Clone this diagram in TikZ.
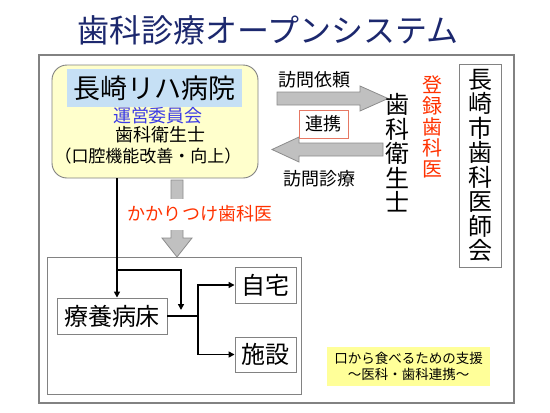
\documentclass[tikz,border=0pt]{standalone}
\usepackage{fontspec}
\setmainfont{Noto Sans CJK JP}
\usetikzlibrary{arrows.meta}
\definecolor{titleblue}{RGB}{28,40,110}
\definecolor{boxedge}{RGB}{130,130,130}
\definecolor{hospfill}{RGB}{255,255,204}
\definecolor{namefill}{RGB}{198,224,245}
\definecolor{commblue}{RGB}{60,60,230}
\definecolor{redtext}{RGB}{255,50,0}
\definecolor{arrowgray}{RGB}{192,192,192}
\definecolor{arrowedge}{RGB}{140,140,140}
\definecolor{notefill}{RGB}{255,255,153}
\definecolor{coopedge}{RGB}{230,120,100}
\tikzset{
  fs/.style={font=\fontsize{#1}{#1}\selectfont},
  plainbox/.style={draw=boxedge, line width=0.9pt, fill=white, inner sep=0pt},
  blockarrow/.style={fill=arrowgray, draw=arrowedge, line width=0.8pt},
  conn/.style={line width=1.6pt, -{Triangle[length=6pt,width=6pt]}},
  connplain/.style={line width=1.6pt},
  vtext/.style={align=center, inner sep=0pt}
}
\begin{document}
\begin{tikzpicture}[x=1pt,y=-1pt]
\useasboundingbox (0,0) rectangle (550,413);
\fill[white] (0,0) rectangle (550,413);

% title
\node[fs=32, text=titleblue, inner sep=0pt] (title) at (268,30) {歯科診療オープンシステム};

% outer frame
\draw[boxedge, line width=1.4pt] (39,55) rectangle (514,403);
\node[inner sep=0pt] (frame) at (276.5,229) {};

% hospital box
\node[draw=boxedge, line width=0.9pt, fill=hospfill, rounded corners=15pt,
      minimum width=206pt, minimum height=113pt, inner sep=0pt] (hosp) at (155,121.5) {};
\node[fill=namefill, minimum width=175pt, minimum height=38pt, inner sep=0pt, fs=27] (hospname) at (154.5,88) {長崎リハ病院};
\node[fs=18, text=commblue, inner sep=0pt] (committee) at (158,116) {運営委員会};
\node[fs=18, inner sep=0pt] (hyg) at (160,135) {歯科衛生士};
\node[fs=17, inner sep=0pt] (oral) at (148,156) {（口腔機能改善・向上）};

% block arrows between hospital and hygienist
\draw[blockarrow] (277,92) -- (360,92) -- (360,86) -- (388,98.5) -- (360,111) -- (360,105) -- (277,105) -- cycle;
\draw[blockarrow] (383,143) -- (299,143) -- (299,137) -- (272,149.5) -- (299,162) -- (299,156) -- (383,156) -- cycle;
\node[fs=18, inner sep=0pt] (req) at (314,80) {訪問依頼};
\node[draw=coopedge, line width=0.9pt, fill=white, fs=18, minimum width=49pt, minimum height=28pt, inner sep=0pt] (coop) at (323.5,124) {連携};
\node[fs=18, inner sep=0pt] (visit) at (319,179) {訪問診療};

% vertical texts
\node[vtext, fs=24, font=\fontsize{24}{24.5}\selectfont] (hygv) at (397,153) {歯\\科\\衛\\生\\士};
\node[vtext, text=redtext, font=\fontsize{20}{21}\selectfont] (regdent) at (432,127) {登\\録\\歯\\科\\医};
\node[draw=boxedge, line width=0.9pt, minimum width=42pt, minimum height=203pt, align=center, inner sep=0pt,
      font=\fontsize{24}{24.5}\selectfont] (assoc) at (480,165.5) {長\\崎\\市\\歯\\科\\医\\師\\会};

% lower box
\node[plainbox, minimum width=254pt, minimum height=137pt] (lower) at (174,325.5) {};

% down arrow from hospital to lower box
\draw[blockarrow] (171,180) -- (183,180) -- (183,238) -- (192,238) -- (177,257) -- (162,238) -- (171,238) -- cycle;
\node[fs=18, text=redtext, fill=white, inner xsep=1pt, minimum height=31pt] (kakari) at (200,214) {かかりつけ歯科医};

% ward and destinations
\node[plainbox, fs=24, minimum width=110pt, minimum height=36pt] (ryoyo) at (112,316) {療養病床};
\node[plainbox, fs=24, minimum width=61pt, minimum height=36pt] (home) at (265.5,285) {自宅};
\node[plainbox, fs=24, minimum width=61pt, minimum height=35pt] (facility) at (265.5,354.5) {施設};

% connectors
\coordinate (v) at (117,0);
\coordinate (br) at (117,270);
\coordinate (e2) at (181,310);
\coordinate (j) at (198,316);
\draw[conn] (hosp.south -| v) -- (ryoyo.north -| v);
\draw[conn] (br) -| (e2);
\draw[connplain] (ryoyo.east) -- (j);
\draw[conn] (j) |- (home.west);
\draw[conn] (j) |- (facility.west);

% note
\node[fill=notefill, minimum width=163pt, minimum height=39pt, align=center, inner sep=0pt,
      font=\fontsize{13.5}{16}\selectfont] (note) at (408.5,366.5) {口から食べるための支援\\～医科・歯科連携～};
\end{tikzpicture}
\end{document}
